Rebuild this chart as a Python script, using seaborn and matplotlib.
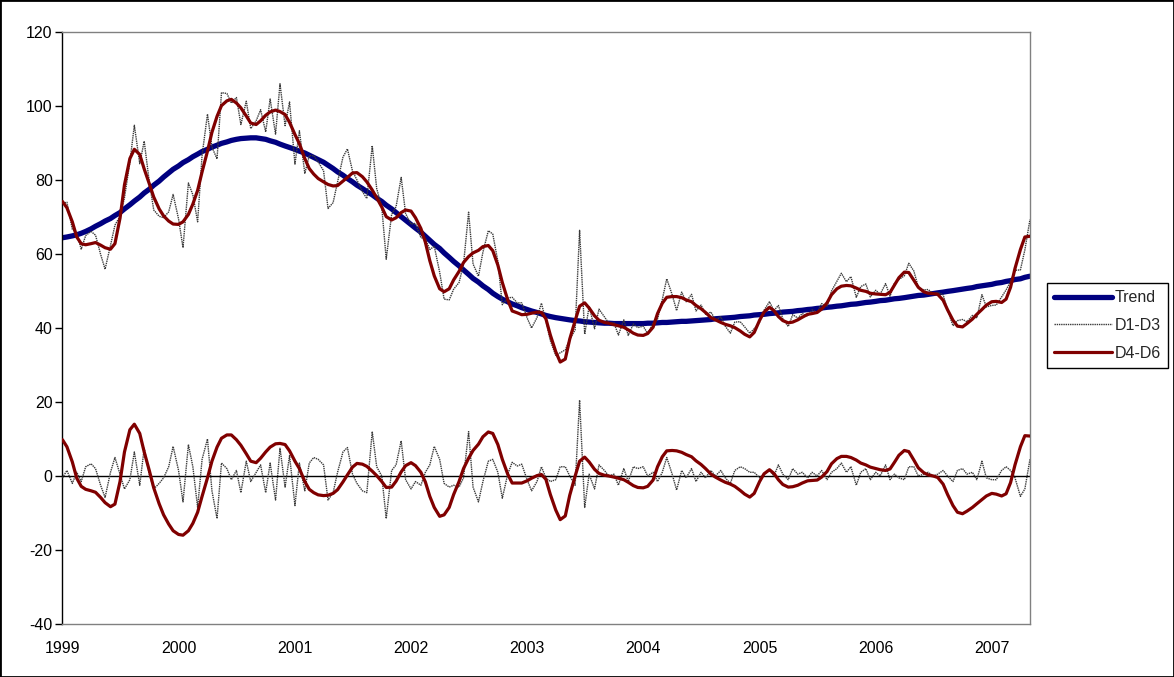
import numpy as np
import pandas as pd
import matplotlib
matplotlib.use("Agg")
import matplotlib.pyplot as plt
import matplotlib.dates as mdates
from matplotlib.lines import Line2D
from matplotlib.patches import Rectangle
import seaborn as sns

# Semi-monthly observations, Jan 1999 - May 2007
dates = pd.date_range("1999-01-01", periods=201, freq="SMS")

# Smooth long-run trend
trend = [
    64.4, 64.6, 64.9, 65.2, 65.6, 66.1, 66.8,
    67.5, 68.2, 68.9, 69.6, 70.4, 71.2,
    72.2, 73.3, 74.3, 75.4, 76.5, 77.5,
    78.6, 79.7, 80.8, 81.9, 82.9, 83.8,
    84.7, 85.5, 86.3, 87.0, 87.7, 88.3,
    88.9, 89.4, 89.9, 90.3, 90.7, 91.0,
    91.2, 91.3, 91.4, 91.4, 91.2, 91.0,
    90.6, 90.2, 89.7, 89.2, 88.8, 88.3,
    87.8, 87.3, 86.7, 86.1, 85.5, 84.8,
    84.0, 83.1, 82.2, 81.3, 80.4, 79.5,
    78.6, 77.7, 76.9, 76.0, 75.1, 74.2,
    73.2, 72.2, 71.2, 70.1, 69.1, 68.0,
    67.0, 65.9, 64.8, 63.7, 62.6, 61.5,
    60.3, 59.1, 58.0, 56.8, 55.7, 54.5,
    53.4, 52.4, 51.4, 50.4, 49.4, 48.5,
    47.8, 47.1, 46.5, 46.0, 45.5, 45.0,
    44.6, 44.2, 43.8, 43.4, 43.1, 42.8,
    42.6, 42.4, 42.2, 42.0, 41.9, 41.7,
    41.6, 41.5, 41.4, 41.3, 41.3, 41.2,
    41.2, 41.2, 41.2, 41.2, 41.2, 41.2,
    41.3, 41.3, 41.4, 41.5, 41.5, 41.6,
    41.7, 41.8, 41.8, 41.9, 42.0, 42.1,
    42.2, 42.3, 42.5, 42.6, 42.7, 42.8,
    42.9, 43.1, 43.2, 43.3, 43.5, 43.6,
    43.7, 43.9, 44.0, 44.1, 44.3, 44.4,
    44.5, 44.7, 44.8, 45.0, 45.1, 45.3,
    45.4, 45.6, 45.7, 45.9, 46.0, 46.2,
    46.4, 46.5, 46.7, 46.9, 47.0, 47.2,
    47.4, 47.5, 47.7, 47.9, 48.0, 48.2,
    48.4, 48.6, 48.8, 48.9, 49.1, 49.3,
    49.5, 49.7, 49.9, 50.1, 50.3, 50.5,
    50.7, 50.9, 51.2, 51.4, 51.6, 51.8,
    52.1, 52.3, 52.6, 52.8, 53.1, 53.3,
    53.7, 54.0,
]

# Short-scale detail component (D1-D3)
d1_d3 = [
    -0.5, 1.5, -2.0, 1.0, -1.5, 2.5, 3.3, 2.0, -2.5, -5.8,
    1.0, 5.0, 0.5, -3.5, -1.0, 6.5, -2.5, 7.5, 0.5, -3.5,
    -2.0, -0.5, 2.5, 8.0, 1.5, -7.0, 8.5, 2.5, -8.5, 4.5,
    10.0, -4.0, -11.5, 3.5, 2.0, -1.0, 1.5, -4.5, 4.0, -1.5,
    1.0, 3.0, -4.5, 3.5, -6.5, 7.5, -3.0, 5.5, -8.0, 3.5,
    -4.0, 3.5, 5.0, 4.5, 3.0, -6.5, -4.5, 1.0, 6.5, 7.7,
    0.5, -2.0, -4.0, -4.5, 12.0, 2.5, 0.0, -11.5, 1.5, 3.0,
    9.5, -1.0, -3.5, -1.5, -2.5, 1.0, 3.0, 8.0, 4.5, -2.0,
    -3.0, -2.5, -3.0, -0.5, 12.0, -3.0, -7.0, -1.5, 4.0, 4.5,
    1.0, -6.0, 0.5, 3.7, 2.7, 3.2, -1.0, -4.0, -1.5, 2.5,
    -0.5, -1.5, -1.0, 2.5, 2.5, 0.0, -2.5, 20.5, -8.5, 0.5,
    -3.5, 3.0, 1.5, 0.0, 0.5, -2.5, 2.0, -1.5, 2.5, 2.0,
    2.5, 0.0, 1.0, -1.5, 1.0, 5.0, 0.5, -3.8, 1.5, -0.5,
    2.0, -1.5, 1.0, -0.5, 1.5, 0.0, 1.5, -0.5, -2.0, 1.5,
    2.5, 2.0, 1.0, 1.0, -0.5, 0.5, 1.5, 0.0, 3.0, 0.5,
    -1.0, 2.0, 0.5, 1.0, -0.5, 1.0, 0.0, 1.5, -1.0, 1.0,
    2.0, 3.5, 1.0, 2.5, -2.5, 1.0, 2.0, -1.0, 1.0, 0.0,
    3.0, -1.0, 0.5, -0.5, -1.0, 2.5, 2.5, 0.0, 0.5, 1.0,
    0.0, 0.5, 1.5, 0.0, -1.5, 1.5, 2.0, 0.5, 1.0, -1.0,
    4.0, -0.5, -1.0, -1.0, 1.5, 2.5, 1.5, -0.5, -5.5, -3.5,
    4.5,
]

# Medium-scale detail component (D4-D6)
d4_d6 = [
    9.8, 7.9, 3.8, -0.6, -2.8, -3.6, -4.0, -4.4, -5.8, -7.2,
    -8.3, -7.6, -1.5, 6.5, 12.5, 14.0, 11.5, 6.5, 1.5, -3.2,
    -7.5, -10.5, -13.0, -14.8, -15.8, -16.0, -14.8, -12.8, -9.8, -5.5,
    -0.5, 4.0, 7.8, 10.2, 11.1, 11.1, 9.8, 8.3, 6.0, 4.0,
    3.6, 4.8, 6.5, 7.8, 8.7, 8.8, 8.5, 6.8, 4.0, 2.0,
    -1.5, -3.6, -4.5, -5.1, -5.3, -5.2, -4.7, -3.7, -1.6, 0.3,
    2.4, 3.4, 3.2, 2.6, 1.3, 0.1, -1.5, -3.1, -3.0, -1.4,
    1.1, 2.8, 3.6, 2.8, 1.0, -1.6, -5.5, -8.5, -10.9, -10.5,
    -8.5, -5.0, -1.5, 2.0, 4.8, 6.9, 8.6, 10.6, 11.9, 11.5,
    8.5, 4.5, 0.5, -1.9, -1.9, -1.9, -1.3, -0.6, 0.1, 0.4,
    -0.9, -5.0, -9.2, -11.8, -10.8, -5.2, 0.0, 4.0, 5.1, 3.8,
    1.8, 0.7, 0.2, 0.0, -0.3, -0.6, -1.0, -1.7, -2.6, -3.1,
    -3.2, -2.8, -1.1, 2.5, 5.2, 6.8, 6.9, 6.8, 6.4, 5.8,
    5.2, 4.1, 3.1, 2.0, 0.5, -0.3, -1.1, -1.7, -2.2, -2.8,
    -3.9, -4.9, -5.7, -4.7, -1.5, 0.6, 1.7, 0.7, -1.0, -2.3,
    -3.0, -2.9, -2.5, -1.9, -1.3, -1.2, -1.1, -0.3, 1.2, 3.3,
    4.7, 5.3, 5.3, 5.0, 4.3, 3.5, 3.0, 2.4, 2.0, 1.7,
    1.5, 1.9, 3.7, 5.6, 6.9, 6.6, 4.3, 2.2, 0.9, 0.3,
    0.0, -0.4, -2.2, -5.0, -8.0, -9.8, -10.2, -9.5, -8.5, -7.5,
    -6.4, -5.4, -4.7, -4.9, -5.4, -4.8, -1.8, 3.0, 7.9, 10.9,
    10.8,
]

y_ticks = [-40, -20, 0, 20, 40, 60, 80, 100, 120]
series_labels = ["Trend", "D1-D3", "D4-D6"]

df = pd.DataFrame({"date": dates, "trend": trend, "d13": d1_d3, "d46": d4_d6})
df["smooth"] = df["trend"] + df["d46"]          # trend + D4-D6
df["original"] = df["smooth"] + df["d13"]       # trend + all details

NAVY = "#000080"
DARKRED = "#800000"
GREY = "#3a3a3a"
DOT = (0, (1.0, 0.6))
FS = 11.5

sns.set_style("white")
plt.rcParams["font.family"] = ["Liberation Sans", "DejaVu Sans"]
plt.rcParams["axes.unicode_minus"] = False

fig = plt.figure(figsize=(11.74, 6.77), dpi=100)
ax = fig.add_axes([0.0532, 0.0783, 0.8241, 0.8744])

# component curves around zero
sns.lineplot(data=df, x="date", y="d13", ax=ax, color=GREY, lw=1.0,
             linestyle=DOT, zorder=3)
sns.lineplot(data=df, x="date", y="d46", ax=ax, color=DARKRED, lw=2.3,
             zorder=4)
# reconstructed series
sns.lineplot(data=df, x="date", y="trend", ax=ax, color=NAVY, lw=3.8,
             zorder=2)
sns.lineplot(data=df, x="date", y="original", ax=ax, color=GREY, lw=1.0,
             linestyle=DOT, zorder=3)
sns.lineplot(data=df, x="date", y="smooth", ax=ax, color=DARKRED, lw=2.3,
             zorder=4)

ax.axhline(0, color="black", lw=1.0, zorder=1)

ax.set_xlim(dates[0], dates[-1])
ax.set_ylim(-40, 120)
ax.set_yticks(y_ticks)
ax.xaxis.set_major_locator(mdates.YearLocator())
ax.xaxis.set_major_formatter(mdates.DateFormatter("%Y"))
ax.set_xlabel("")
ax.set_ylabel("")
ax.tick_params(axis="x", length=0, pad=12, labelsize=FS, colors="black")
ax.tick_params(axis="y", length=5, width=1, direction="out", pad=2,
               labelsize=FS, colors="black", left=True)

for side in ["top", "right", "bottom"]:
    ax.spines[side].set_color("#808080")
    ax.spines[side].set_linewidth(1.0)
ax.spines["left"].set_color("black")
ax.spines["left"].set_linewidth(1.0)

handles = [
    Line2D([], [], color=NAVY, lw=3.8, solid_capstyle="round"),
    Line2D([], [], color=GREY, lw=1.0, linestyle=DOT),
    Line2D([], [], color=DARKRED, lw=2.3),
]
leg = fig.legend(handles, series_labels, loc="upper left",
                 bbox_to_anchor=(1047 / 1174, 1 - 283 / 677),
                 borderaxespad=0, frameon=True, fancybox=False, shadow=False,
                 edgecolor="black", framealpha=1, fontsize=FS,
                 handlelength=3.6, handletextpad=0.2, labelspacing=0.8,
                 borderpad=0.45)
leg.get_frame().set_linewidth(1.0)

fig.patches.append(Rectangle((0, 0), 1, 1, transform=fig.transFigure,
                             fill=False, edgecolor="black", lw=2.0))

fig.savefig("out.png", dpi=100)
